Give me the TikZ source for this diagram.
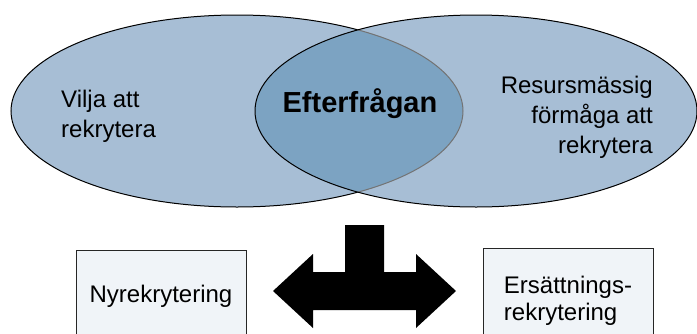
\documentclass[tikz,border=0pt]{standalone}
\usepackage{fontspec}
\setmainfont{Liberation Sans}
\usetikzlibrary{positioning}
\definecolor{lightblue}{HTML}{A7BED5}
\definecolor{darkblue}{HTML}{7CA3C2}
\definecolor{boxfill}{HTML}{F0F4F8}

\begin{document}
\begin{tikzpicture}[x=1pt,y=-1pt]
\tikzstyle{every node}=[inner sep=0pt]
\tikzstyle{txt}=[font=\fontsize{24}{30}\selectfont]
\tikzstyle{box}=[draw=black!85,fill=boxfill,line width=1pt,minimum width=170pt,font=\fontsize{24}{27}\selectfont]
\useasboundingbox (0,0) rectangle (697,333);
\clip (0,0) rectangle (697,333);
% ellipses
\draw[fill=lightblue,line width=1pt] (237,111) ellipse [x radius=226pt,y radius=96pt];
\fill[lightblue] (476,111) ellipse [x radius=221pt,y radius=96pt];
\begin{scope}
\clip (476,111) ellipse [x radius=221pt,y radius=96pt];
\draw[fill=darkblue,draw=black!55,line width=1pt] (237,111) ellipse [x radius=226pt,y radius=96pt];
\end{scope}
\draw[line width=1pt] (476,111) ellipse [x radius=221pt,y radius=96pt];
\node (want) [txt,align=left,anchor=west] at (61,116) {Vilja att\\rekrytera};
\node (demand) [font=\bfseries\fontsize{29}{34}\selectfont,anchor=base] at (360,112) {Efterfrågan};
\node (means) [txt,align=right,anchor=east] at (653,117) {Resursmässig\\förmåga att\\rekrytera};
% boxes
\node (newrec) [box,minimum height=92pt,anchor=north] at (161,250) {Nyrekrytering};
\node (reprec) [box,align=left,minimum height=104pt,anchor=north] at (568,248) {Ersättnings-\\rekrytering};
% arrow
\fill (345,225) -- (384,225) -- (384,272) -- (416,272) -- (416,254) -- (456,291)
  -- (416,328) -- (416,310) -- (313,310) -- (313,328) -- (273,291) -- (313,254)
  -- (313,272) -- (345,272) -- cycle;
\end{tikzpicture}
\end{document}
